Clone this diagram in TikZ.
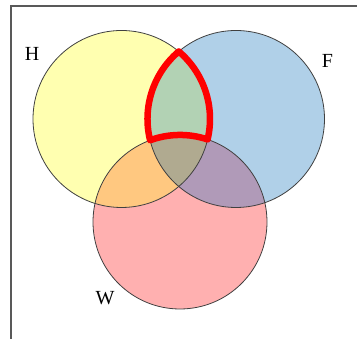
\documentclass[tikz,border=0pt]{standalone}
\usepackage{fontspec}
\setmainfont{Liberation Serif}
\definecolor{hYel}{RGB}{255,255,176}
\definecolor{fBlue}{RGB}{176,208,232}
\definecolor{wPink}{RGB}{255,176,176}
\definecolor{hfGreen}{RGB}{178,210,180}
\definecolor{hwOrange}{RGB}{255,200,128}
\definecolor{fwPurple}{RGB}{176,154,184}
\definecolor{hfwMid}{RGB}{176,170,144}
\begin{document}
\begin{tikzpicture}[x=1pt,y=1pt,
  ring/.style={draw=black!75,line width=0.8pt},
  setname/.style={font=\fontsize{20}{24}\selectfont},
  frameline/.style={draw=black!65,line width=2pt}]
\useasboundingbox (0,0) rectangle (357,339);
% frame
\draw[frameline] (10.5,0) -- (10.5,333) -- (357,333);
% circle centres
\coordinate (cH) at (121.5,220);
\coordinate (cF) at (236,220);
\coordinate (cW) at (180,117);
\fill[hYel] (cH) circle (88.5);
\fill[fBlue] (cF) circle (88.5);
\fill[wPink] (cW) circle (87);
% overlaps
\begin{scope}
\clip (cH) circle (88.5);
\fill[hfGreen] (cF) circle (88.5);
\fill[hwOrange] (cW) circle (87);
\end{scope}
\begin{scope}
\clip (cF) circle (88.5);
\fill[fwPurple] (cW) circle (87);
\clip (cH) circle (88.5);
\fill[hfwMid] (cW) circle (87);
\end{scope}
\draw[ring] (cH) circle (88.5);
\draw[ring] (cF) circle (88.5);
\draw[ring] (cW) circle (87);
% H and F but not W
\coordinate (top) at (178.75,287.5);
\draw[red,line width=6.5pt,line join=round] (top)
  arc[start angle=130.3,end angle=193.9,radius=88.5]
  arc[start angle=110.1,end angle=71.5,radius=87]
  arc[start angle=-13.4,end angle=49.7,radius=88.5] -- cycle;
\node[setname] (labH) at (32,285) {H};
\node[setname] (labF) at (327.5,278.5) {F};
\node[setname] (labW) at (105,40.5) {W};
\end{tikzpicture}
\end{document}
